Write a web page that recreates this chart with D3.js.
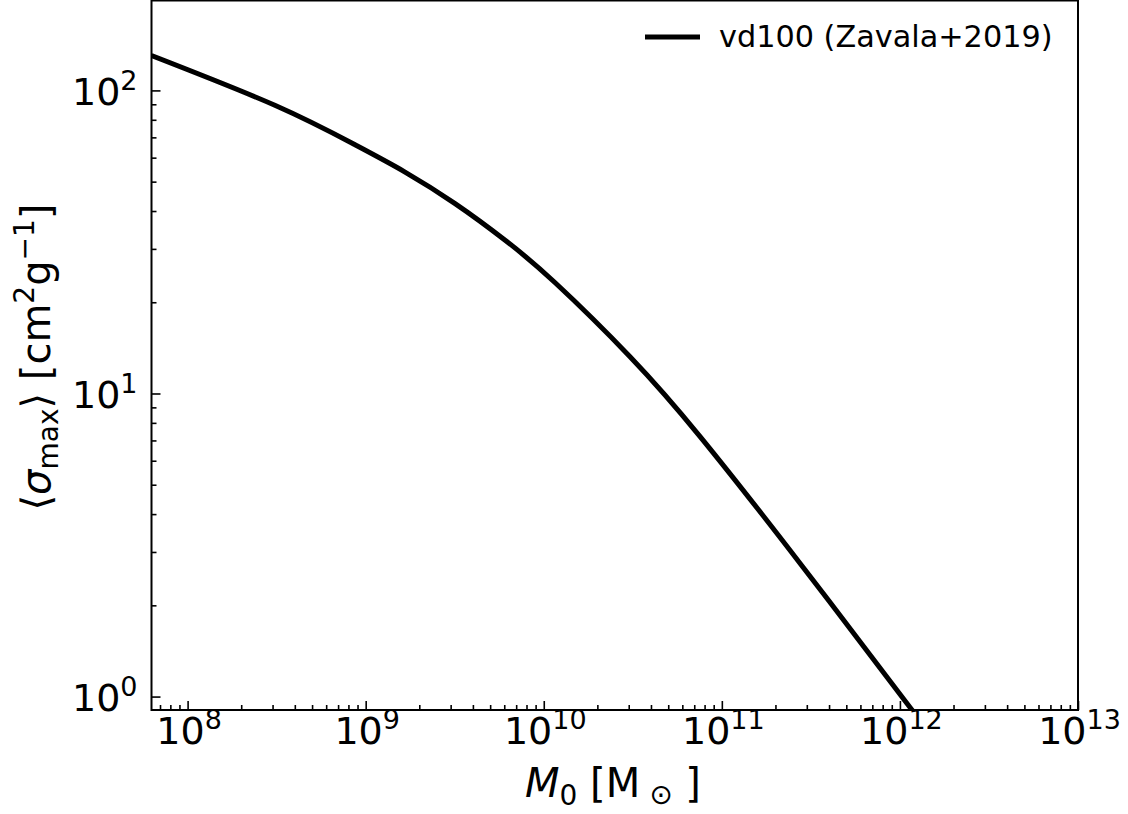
<!DOCTYPE html>
<html>
<head>
<meta charset="utf-8">
<script src="https://cdn.jsdelivr.net/npm/d3@7"></script>
<style>
  html, body { margin: 0; padding: 0; background: #fff; }
  svg { display: block; font-family: "DejaVu Sans", sans-serif; }
</style>
</head>
<body>
<svg id="chart" width="1128" height="814"></svg>
<script>
// Halo mass M0 [Msun] and velocity-averaged maximum cross section [cm^2/g]
const massValues  = [6.27e7, 3.09e8, 8.71e8, 1.663e9, 3.177e9, 6.07e9, 1.159e10, 3.06e10, 7.57e10, 2.76e11, 1.146e12, 1.585e12];
const sigmaValues = [130.3, 89.3, 66.16, 53.78, 42.33, 32.05, 23.19, 13.20, 7.196, 2.745, 0.9175, 0.7134];

const seriesLabel = "vd100 (Zavala+2019)";
const xMajorExps = [8, 9, 10, 11, 12, 13];
const yMajorExps = [0, 1, 2];

const xDomain = [6.27e7, 1e13];
const yDomain = [0.903, 198];

const svg = d3.select("#chart");
const plot = { left: 151.5, right: 1078, top: 0.5, bottom: 710 };

const x = d3.scaleLog().domain(xDomain).range([plot.left, plot.right]);
const y = d3.scaleLog().domain(yDomain).range([plot.bottom, plot.top]);

function minorTicks(scale, lo, hi) {
  const out = [];
  const d = scale.domain();
  for (let e = lo; e <= hi; e++) {
    for (let m = 2; m <= 9; m++) {
      const v = m * Math.pow(10, e);
      if (v >= d[0] && v <= d[1]) out.push(v);
    }
  }
  return out;
}

svg.append("clipPath").attr("id", "plotclip")
  .append("rect")
  .attr("x", plot.left).attr("y", plot.top)
  .attr("width", plot.right - plot.left).attr("height", plot.bottom - plot.top);

// curve
const pts = massValues.map((m, i) => [m, sigmaValues[i]]);
const line = d3.line()
  .x(d => x(d[0]))
  .y(d => y(d[1]))
  .curve(d3.curveNatural);

svg.append("path")
  .datum(pts)
  .attr("clip-path", "url(#plotclip)")
  .attr("fill", "none")
  .attr("stroke", "#000")
  .attr("stroke-width", 5)
  .attr("stroke-linejoin", "round")
  .attr("d", line);

// axes: ticks pointing inward
const tickFont = 38;
const xMajor = xMajorExps.map(e => Math.pow(10, e));
const yMajor = yMajorExps.map(e => Math.pow(10, e));

const gxMinor = svg.append("g").attr("transform", `translate(0,${plot.bottom})`)
  .call(d3.axisBottom(x).tickValues(minorTicks(x, 7, 12)).tickSize(-5).tickFormat(""));
const gx = svg.append("g").attr("transform", `translate(0,${plot.bottom})`)
  .call(d3.axisBottom(x).tickValues(xMajor).tickSize(-9).tickPadding(8).tickFormat(""));
const gyMinor = svg.append("g").attr("transform", `translate(${plot.left},0)`)
  .call(d3.axisLeft(y).tickValues(minorTicks(y, -1, 2)).tickSize(-5).tickFormat(""));
const gy = svg.append("g").attr("transform", `translate(${plot.left},0)`)
  .call(d3.axisLeft(y).tickValues(yMajor).tickSize(-9).tickPadding(8).tickFormat(""));

[gxMinor, gx, gyMinor, gy].forEach(g => {
  g.select(".domain").remove();
  g.selectAll(".tick line").attr("stroke", "#000").attr("stroke-width", 1.6);
});

// power-of-ten tick labels
function powerLabel(sel, exp) {
  sel.text(null);
  sel.append("tspan").text("10");
  sel.append("tspan").attr("dy", -15).attr("font-size", 27).text(String(exp));
}

gx.selectAll(".tick").each(function(d, i) {
  const t = d3.select(this).select("text")
    .attr("font-family", "DejaVu Sans").attr("font-size", tickFont)
    .attr("fill", "#000").attr("dy", null)
    .attr("text-anchor", "middle")
    .attr("y", 34);
  powerLabel(t, xMajorExps[i]);
  t.attr("transform", "translate(1,0)");
});

gy.selectAll(".tick").each(function(d, i) {
  const t = d3.select(this).select("text")
    .attr("font-family", "DejaVu Sans").attr("font-size", tickFont)
    .attr("fill", "#000").attr("dy", null)
    .attr("text-anchor", "end")
    .attr("x", -14).attr("y", 14);
  powerLabel(t, yMajorExps[i]);
});

// frame
svg.append("rect")
  .attr("x", plot.left).attr("y", plot.top)
  .attr("width", plot.right - plot.left).attr("height", plot.bottom - plot.top)
  .attr("fill", "none").attr("stroke", "#000").attr("stroke-width", 2);

// x axis label: M_0 [M_sun]
const xl = svg.append("text")
  .attr("x", 613).attr("y", 797)
  .attr("text-anchor", "middle").attr("font-size", 40).attr("fill", "#000");
xl.append("tspan").attr("font-style", "italic").text("M");
xl.append("tspan").attr("font-size", 28).attr("dy", 8).text("0");
xl.append("tspan").attr("dy", -8).text(" [M");
xl.append("tspan").attr("font-size", 28).attr("dy", 7).text(" \u2299");
xl.append("tspan").attr("dy", -7).text(" ]");

// y axis label: <sigma_max> [cm^2 g^-1]
const yl = svg.append("text")
  .attr("transform", `translate(50,357) rotate(-90)`)
  .attr("text-anchor", "middle").attr("font-size", 40).attr("fill", "#000");
yl.append("tspan").text("\u27E8");
yl.append("tspan").attr("font-style", "italic").text("\u03C3");
yl.append("tspan").attr("font-size", 28).attr("dy", 8).text("max");
yl.append("tspan").attr("dy", -8).text("\u27E9 [cm");
yl.append("tspan").attr("font-size", 28).attr("dy", -16).text("2");
yl.append("tspan").attr("dy", 16).text("g");
yl.append("tspan").attr("font-size", 28).attr("dy", -16).text("\u22121");
yl.append("tspan").attr("dy", 16).text("]");

// legend
const legend = svg.append("g");
legend.append("line")
  .attr("x1", 645).attr("x2", 700).attr("y1", 37).attr("y2", 37)
  .attr("stroke", "#000").attr("stroke-width", 5);
legend.append("text")
  .attr("x", 719).attr("y", 47)
  .attr("font-size", 30.3).attr("fill", "#000")
  .text(seriesLabel);
</script>
</body>
</html>
